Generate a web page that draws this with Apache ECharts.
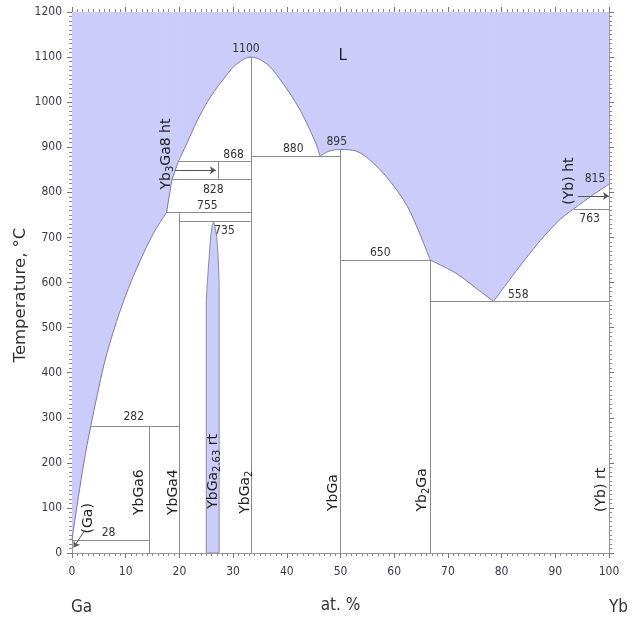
<!DOCTYPE html>
<html><head><meta charset="utf-8">
<script src="https://cdn.jsdelivr.net/npm/echarts@6/dist/echarts.min.js"></script>
<style>html,body{margin:0;padding:0;background:#fff}#c{width:636px;height:619px}</style>
</head><body><div id="c"></div>
<script>
// ---- data (composition at.% Yb, temperature °C) ----
const xTickLabels = [0,10,20,30,40,50,60,70,80,90,100];
const yTickLabels = [0,100,200,300,400,500,600,700,800,900,1000,1100,1200];
// liquidus, split at its corners (each piece is a smooth curve)
const liqGaSide = [[0,30],[0.5,70],[1.2,125],[2.2,200],[3.5,282],[4.7,350],[6.0,420],[7.8,495],[9.9,568],[12.4,641],[15.3,712],[17.6,755]];
const liqPeritectic = [[17.6,755],[18.6,828],[19.8,868]];
const liqYbGa2 = [[19.8,868],[21.4,909],[22.8,946],[24.3,982],[26.2,1019],[28.5,1056],[30.7,1085],[33.3,1100],[36.3,1085],[38.4,1056],[40.6,1019],[42.5,982],[44.0,946],[45.4,909],[46.2,880]];
const liqYbGa = [[46.2,880],[47.8,891],[50,895],[53,891],[56.1,865],[59.2,825],[62.4,770],[64.8,707],[66.7,650]];
const liqYb2Ga = [[66.7,650],[71.7,619],[75.4,586],[78.5,558]];
const liqYbSide = [[78.5,558],[82.8,627],[87.2,693],[90.9,740],[93.4,763],[97.1,795],[100,818]];
const bandYbGa263 = [[25,0],[25,560],[25.2,600],[25.5,650],[25.8,700],[26.1,725],[26.35,735],[26.6,725],[26.96,700],[27.2,660],[27.4,600],[27.4,0]];
const tieLines = [
  [[0,28],[14.3,28]], [[14.3,0],[14.3,282]], [[3.5,282],[20,282]], [[20,0],[20,755]],
  [[17.6,755],[33.3,755]], [[20,735],[33.3,735]], [[18.6,828],[33.3,828]], [[19.8,868],[33.3,868]],
  [[27.3,828],[27.3,868]], [[33.3,0],[33.3,1100]], [[33.3,880],[50,880]], [[50,0],[50,895]],
  [[50,650],[66.7,650]], [[66.7,0],[66.7,650]], [[66.7,558],[100,558]], [[93.4,763],[100,763]]
];
const arrows = [ [[2.2,47],[0.3,12]], [[19.2,849],[26.8,849]], [[94.2,792],[100,792]] ];
const numLabels = [
  ['1100',32.4,1118],['868',30.1,883],['828',26.3,806],['755',25.2,770],['735',28.4,715],
  ['880',41.2,896],['895',49.3,913],['650',57.4,666],['558',83.1,573],['815',97.4,830],
  ['763',96.4,742],['282',11.5,301],['28',6.8,44]
];
const phaseLabels = [
  ['{n|Yb}{s|3}{n|Ga8 ht}',17.6,885],['{n|YbGa6}',12.6,135],['{n|YbGa4}',18.9,135],
  ['{n|YbGa}{s|2.63}{n| rt}',26.3,181],['{n|YbGa}{s|2}',32.2,135],['{n|YbGa}',48.6,134],
  ['{n|Yb}{s|2}{n|Ga}',65.3,140],['{n|(Yb) rt}',98.6,140],['{n|(Yb) ht}',92.7,825],['{n|(Ga)}',3.0,77]
];
const liquidLabel = ['L',50.4,1103];

const NARROW = "'Liberation Sans Narrow','DejaVu Sans Condensed','Liberation Sans',sans-serif";
const WIDE = "'DejaVu Sans',Verdana,sans-serif";
const FILL = '#ccccfa';

const chart = echarts.init(document.getElementById('c'));
const tickCommon = {
  axisLine:{show:true,onZero:false,lineStyle:{color:'#9a9a9a',width:1}},
  axisTick:{show:true,length:5,lineStyle:{color:'#777'}},
  minorTick:{show:true,splitNumber:10,length:3,lineStyle:{color:'#888'}},
  splitLine:{show:false}, minorSplitLine:{show:false}
};
function textItem(d, rotated, font, color){
  return function(params, api){
    const p = api.coord([d[1], d[2]]);
    return {type:'text', x:p[0], y:p[1], rotation: rotated?Math.PI/2:0,
      style:{text:d[0], fill:color, font:font, align:'center', verticalAlign:'middle',
        rich:{n:{fontFamily:WIDE,fontSize:14,lineHeight:18,fill:color,verticalAlign:'middle'},
              s:{fontFamily:WIDE,fontSize:10,lineHeight:10,fill:color,verticalAlign:'bottom'}}}};
  };
}
const segments = [[liqGaSide,0.35],[liqPeritectic,0],[liqYbGa2,0.35],[liqYbGa,0.35],[liqYb2Ga,0.3],[liqYbSide,0.3]];
const series = [];
segments.forEach(function(seg){
  series.push({type:'line', data:seg[0], showSymbol:false, symbol:'none', z:2, silent:true,
    smooth:seg[1]>0?seg[1]:false,
    lineStyle:{color:'#7a7aa6',width:1}, areaStyle:{origin:'end',color:FILL,opacity:1}});
});
// cover anti-aliasing seams between adjacent liquid areas
series.push({type:'lines', coordinateSystem:'cartesian2d', z:2, silent:true,
  data:segments.slice(1).map(function(seg){const p=seg[0][0];return {coords:[[p[0],p[1]+4],[p[0],1200]]};}),
  lineStyle:{color:FILL,width:1.5,opacity:1}});
series.push({type:'custom', z:3, silent:true, data:[[0,0]],
  renderItem:function(params, api){
    const pts = bandYbGa263.map(function(p){return api.coord(p);});
    return {type:'polygon', shape:{points:pts}, style:{fill:FILL, stroke:'#8a8aa8', lineWidth:1}};
  }});
series.push({type:'lines', coordinateSystem:'cartesian2d', z:4, silent:true,
  data:tieLines.map(function(s){return {coords:s};}), lineStyle:{color:'#8c8c8c',width:1,opacity:1}});
series.push({type:'lines', coordinateSystem:'cartesian2d', z:4, silent:true, symbol:['none','arrow'], symbolSize:6,
  data:arrows.map(function(s){return {coords:s};}), lineStyle:{color:'#555',width:1,opacity:1}});
numLabels.forEach(function(d){
  series.push({type:'custom', z:5, silent:true, data:[[d[1],d[2]]], renderItem:textItem(d,false,'12px '+NARROW,'#333')});
});
phaseLabels.forEach(function(d){
  series.push({type:'custom', z:5, silent:true, data:[[d[1],d[2]]], renderItem:textItem(d,true,'14px '+WIDE,'#222')});
});
series.push({type:'custom', z:5, silent:true, data:[[liquidLabel[1],liquidLabel[2]]], renderItem:textItem(liquidLabel,false,'15px '+WIDE,'#222')});

chart.setOption({
  animation:false,
  grid:{left:72,right:27,top:12,bottom:61},
  xAxis:[
    Object.assign({type:'value',min:0,max:100,interval:10,position:'bottom',
      axisLabel:{color:'#3a3a4a',fontFamily:NARROW,fontSize:12,margin:13,formatter:function(v){return xTickLabels.indexOf(v)>=0?String(v):'';}},
      name:'at. %',nameLocation:'middle',nameGap:44,nameTextStyle:{color:'#333',fontFamily:NARROW,fontSize:17}}, tickCommon),
    Object.assign({type:'value',min:0,max:100,interval:10,position:'top',axisLabel:{show:false}}, tickCommon)
  ],
  yAxis:[
    Object.assign({type:'value',min:0,max:1200,interval:100,position:'left',
      axisLabel:{color:'#3a3a4a',fontFamily:NARROW,fontSize:12,margin:10,formatter:function(v){return yTickLabels.indexOf(v)>=0?String(v):'';}}}, tickCommon),
    Object.assign({type:'value',min:0,max:1200,interval:100,position:'right',axisLabel:{show:false}}, tickCommon)
  ],
  graphic:[
    {type:'text',x:21,y:295,rotation:Math.PI/2,style:{text:'Temperature, °C',font:'16.5px '+WIDE,fill:'#333',align:'center',verticalAlign:'middle'}},
    {type:'text',left:71,top:599,style:{text:'Ga',font:'17px '+NARROW,fill:'#333'}},
    {type:'text',left:609,top:599,style:{text:'Yb',font:'17px '+NARROW,fill:'#333'}}
  ],
  series:series
});
</script></body></html>
